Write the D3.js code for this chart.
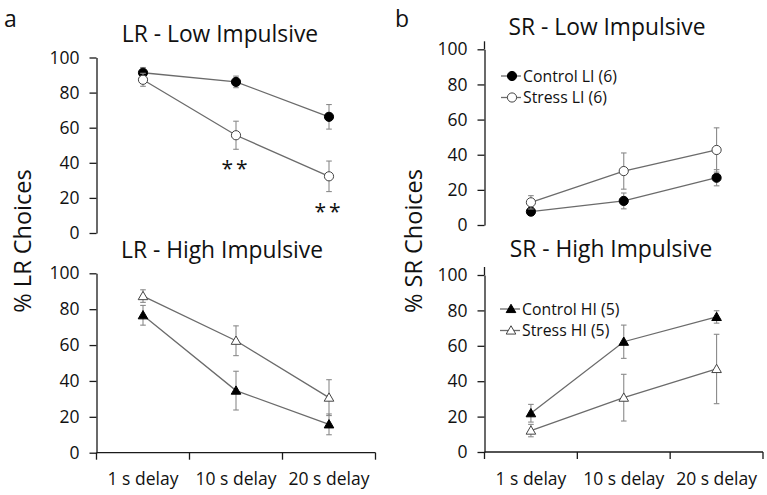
<!DOCTYPE html>
<html><head><meta charset="utf-8">
<script src="https://cdn.jsdelivr.net/npm/d3@7"></script>
<style>
body{margin:0;background:#fff;}
svg{display:block;font-family:"Open Sans",sans-serif;}
</style></head>
<body><svg id="chart" width="767" height="495"></svg>
<script>
// ---------- data ----------
const categories = ["1 s delay", "10 s delay", "20 s delay"];
const yTicks = [0, 20, 40, 60, 80, 100];

const lrLowControl = [91.3, 86.1, 66.2];
const lrLowControlErr = [3.0, 3.3, 7.0];
const lrLowStress = [87.3, 55.7, 32.3];
const lrLowStressErr = [3.7, 8.0, 8.7];

const lrHighControl = [76.6, 34.6, 15.8];
const lrHighControlErr = [5.5, 10.8, 5.8];
const lrHighStress = [87.3, 62.4, 30.7];
const lrHighStressErr = [3.5, 8.3, 10.0];

const srLowControl = [7.6, 13.7, 26.9];
const srLowControlErr = [2.0, 4.5, 4.6];
const srLowStress = [12.9, 30.7, 42.7];
const srLowStressErr = [3.8, 10.3, 12.6];

const srHighControl = [21.9, 62.3, 76.3];
const srHighControlErr = [5.0, 9.4, 3.5];
const srHighStress = [12.1, 30.7, 46.9];
const srHighStressErr = [3.5, 13.2, 19.6];

const titles = ["LR - Low Impulsive", "LR - High Impulsive", "SR - Low Impulsive", "SR - High Impulsive"];
const yLabels = ["% LR Choices", "% SR Choices"];
const legendLow = ["Control LI (6)", "Stress LI (6)"];
const legendHigh = ["Control HI (5)", "Stress HI (5)"];
const sigMarks = ["", "**", "**"]; // significance over Stress LI (LR low)

// ---------- drawing ----------
const svg = d3.select("#chart");
const lineCol = "#6b6b6b", errCol = "#8a8a8a", axisCol = "#1a1a1a", textCol = "#111";

const panels = [
  {x0:96.5, x1:375.5, y0:233, y1:57.5, title:titles[0], tx:220, ty:42, showX:false, ext:0,
   series:[{v:lrLowControl, e:lrLowControlErr, shape:"circle", filled:true},
           {v:lrLowStress, e:lrLowStressErr, shape:"circle", filled:false, sig:sigMarks}]},
  {x0:96.5, x1:375.5, y0:452.7, y1:273.3, title:titles[1], tx:222, ty:258, showX:true, ext:0,
   series:[{v:lrHighControl, e:lrHighControlErr, shape:"triangle", filled:true},
           {v:lrHighStress, e:lrHighStressErr, shape:"triangle", filled:false}]},
  {x0:484.5, x1:763, y0:225, y1:49.3, title:titles[2], tx:607, ty:35, showX:false, ext:8,
   legend:legendLow, lx:501, ly:76,
   series:[{v:srLowControl, e:srLowControlErr, shape:"circle", filled:true},
           {v:srLowStress, e:srLowStressErr, shape:"circle", filled:false}]},
  {x0:484.5, x1:763, y0:452, y1:275, title:titles[3], tx:611, ty:256.5, showX:true, ext:8,
   legend:legendHigh, lx:500, ly:309,
   series:[{v:srHighControl, e:srHighControlErr, shape:"triangle", filled:true},
           {v:srHighStress, e:srHighStressErr, shape:"triangle", filled:false}]}
];

function marker(g, shape, filled, cx, cy) {
  if (shape === "circle") {
    g.append("circle").attr("cx", cx).attr("cy", cy).attr("r", 4.6)
      .attr("fill", filled ? "#000" : "#fff").attr("stroke", filled ? "#000" : "#444").attr("stroke-width", 1);
  } else {
    const sym = d3.symbol().type(d3.symbolTriangle).size(40);
    g.append("path").attr("d", sym()).attr("transform", `translate(${cx},${cy + 0.8})`)
      .attr("fill", filled ? "#000" : "#fff").attr("stroke", filled ? "#000" : "#444").attr("stroke-width", 1);
  }
}

panels.forEach(p => {
  const g = svg.append("g");
  const x = d3.scaleBand().domain(categories).range([p.x0, p.x1]).paddingInner(0).paddingOuter(0);
  const y = d3.scaleLinear().domain([0, 100]).range([p.y0, p.y1]);
  const cx = c => x(c) + x.bandwidth() / 2;

  // y axis
  const ya = g.append("g").attr("transform", `translate(${p.x0},0)`)
    .call(d3.axisLeft(y).tickValues(yTicks).tickSize(7).tickSizeOuter(0).tickPadding(10));
  ya.select(".domain").attr("stroke", axisCol).attr("stroke-width", 1.3);
  ya.selectAll(".tick line").attr("stroke", axisCol).attr("stroke-width", 1.3);
  ya.selectAll(".tick text").attr("font-size", 17.5).attr("fill", textCol).attr("font-family", "Open Sans");
  if (p.ext) {
    g.append("line").attr("x1", p.x0).attr("x2", p.x0).attr("y1", y(100)).attr("y2", y(100) - p.ext)
      .attr("stroke", axisCol).attr("stroke-width", 1.3);
  }

  // x axis
  if (p.showX) {
    g.append("line").attr("x1", p.x0).attr("x2", p.x1).attr("y1", y(0)).attr("y2", y(0))
      .attr("stroke", axisCol).attr("stroke-width", 1.3);
    const bounds = categories.map(c => x(c)).concat([x(categories[categories.length - 1]) + x.bandwidth()]);
    g.selectAll(".xt").data(bounds).join("line").attr("class", "xt")
      .attr("x1", d => d).attr("x2", d => d).attr("y1", y(0)).attr("y2", y(0) + 7)
      .attr("stroke", axisCol).attr("stroke-width", 1.3);
    g.selectAll(".xl").data(categories).join("text").attr("class", "xl")
      .attr("x", d => cx(d)).attr("y", y(0) + 32.5).attr("text-anchor", "middle")
      .attr("font-size", 17.5).attr("fill", textCol).text(d => d);
  }

  // title
  g.append("text").attr("x", p.tx).attr("y", p.ty).attr("text-anchor", "middle")
    .attr("font-size", 22.8).attr("fill", textCol).text(p.title);

  // series
  p.series.forEach(s => {
    const pts = categories.map((c, i) => ({c, v: s.v[i], e: s.e[i]}));
    pts.forEach(d => {
      const xx = cx(d.c);
      g.append("line").attr("x1", xx).attr("x2", xx).attr("y1", y(d.v + d.e)).attr("y2", y(d.v - d.e))
        .attr("stroke", errCol).attr("stroke-width", 1.1);
      [d.v + d.e, d.v - d.e].forEach(v => {
        g.append("line").attr("x1", xx - 2.8).attr("x2", xx + 2.8).attr("y1", y(v)).attr("y2", y(v))
          .attr("stroke", errCol).attr("stroke-width", 1.1);
      });
    });
    g.append("path").datum(pts)
      .attr("d", d3.line().x(d => cx(d.c)).y(d => y(d.v)))
      .attr("fill", "none").attr("stroke", lineCol).attr("stroke-width", 1.3);
    pts.forEach(d => marker(g, s.shape, s.filled, cx(d.c), y(d.v)));
    if (s.sig) {
      pts.forEach((d, i) => {
        if (!s.sig[i]) return;
        g.append("text").attr("x", cx(d.c)).attr("y", y(d.v - d.e) + 27)
          .attr("text-anchor", "middle").attr("font-size", 21).attr("letter-spacing", 3)
          .attr("fill", textCol).text(s.sig[i]);
      });
    }
  });

  // legend
  if (p.legend) {
    p.legend.forEach((t, i) => {
      const s = p.series[i];
      const ly = p.ly + i * 21.5;
      g.append("line").attr("x1", p.lx).attr("x2", p.lx + 20).attr("y1", ly).attr("y2", ly)
        .attr("stroke", lineCol).attr("stroke-width", 1.3);
      marker(g, s.shape, s.filled, p.lx + 11, ly);
      g.append("text").attr("x", p.lx + 22).attr("y", ly).attr("dy", "0.36em")
        .attr("font-size", 15.8).attr("fill", textCol).text(t);
    });
  }
});

// y axis labels
svg.append("text").attr("transform", "translate(31,241) rotate(-90)").attr("text-anchor", "middle")
  .attr("font-size", 23.5).attr("fill", textCol).text(yLabels[0]);
svg.append("text").attr("transform", "translate(422,241) rotate(-90)").attr("text-anchor", "middle")
  .attr("font-size", 23.5).attr("fill", textCol).text(yLabels[1]);

// panel letters
svg.append("text").attr("x", 4).attr("y", 26.5).attr("font-size", 23).attr("fill", textCol).text("a");
svg.append("text").attr("x", 395).attr("y", 26.5).attr("font-size", 23).attr("fill", textCol).text("b");
</script></body></html>
